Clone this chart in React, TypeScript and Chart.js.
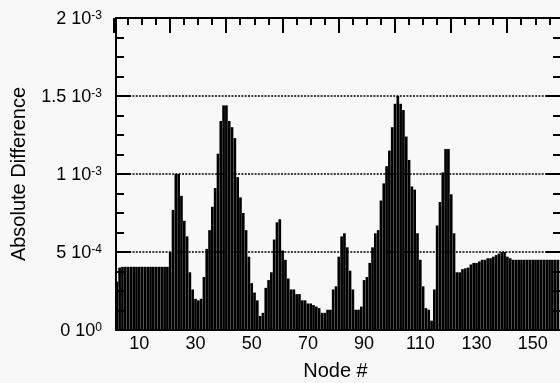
import React, { useEffect, useRef } from "react";
import { Chart, registerables } from "chart.js";

Chart.register(...registerables);

// ---- data (absolute difference, in units of 1e-4), node numbers start at FIRST_NODE ----
const FIRST_NODE = 2;
const diffE4: number[] = [
  // nodes 2-9
  3.1, 4.0, 4.05, 4.05, 4.05, 4.05, 4.05, 4.05,
  // 10-19
  4.05, 4.05, 4.05, 4.05, 4.05, 4.05, 4.05, 4.05, 4.05, 4.05,
  // 20-29
  4.05, 5.0, 7.7, 10.0, 10.0, 8.6, 7.0, 6.0, 3.7, 2.6,
  // 30-39
  2.0, 1.9, 2.0, 3.4, 5.2, 6.4, 7.9, 9.1, 11.3, 13.4,
  // 40-49
  14.4, 14.4, 13.4, 13.0, 12.3, 9.8, 8.5, 7.5, 6.4, 4.7,
  // 50-59
  3.0, 2.4, 1.9, 0.9, 1.1, 2.7, 3.2, 3.7, 5.8, 6.9,
  // 60-69
  7.1, 5.1, 4.5, 3.3, 2.6, 2.6, 2.3, 2.3, 1.9, 1.9,
  // 70-79
  1.7, 1.7, 1.6, 1.5, 1.4, 1.1, 1.1, 1.3, 1.3, 2.6,
  // 80-89
  2.8, 4.7, 6.0, 6.2, 5.3, 3.8, 2.6, 1.3, 1.3, 1.5,
  // 90-99
  3.2, 3.4, 4.3, 5.3, 6.2, 6.4, 8.3, 9.4, 10.5, 11.5,
  // 100-109
  13.0, 14.5, 15.0, 14.5, 14.1, 12.4, 10.9, 9.2, 9.0, 6.2,
  // 110-119
  4.5, 2.8, 1.4, 1.3, 0.6, 2.6, 6.7, 8.2, 10.1, 11.6,
  // 120-129
  11.6, 8.7, 6.2, 3.7, 3.7, 3.9, 3.95, 4.0, 4.2, 4.3,
  // 130-139
  4.3, 4.4, 4.5, 4.5, 4.6, 4.6, 4.7, 4.8, 4.9, 5.0,
  // 140-149
  5.0, 4.7, 4.6, 4.5, 4.5, 4.5, 4.5, 4.5, 4.5, 4.5,
  // 150-159
  4.5, 4.5, 4.5, 4.5, 4.5, 4.5, 4.5, 4.5, 4.5, 4.5,
];
const nodes = diffE4.map((_, i) => FIRST_NODE + i);
const values = diffE4.map((v) => v * 1e-4);

// ---- axis text / ticks ----
const xBottomLabels = [10, 30, 50, 70, 90, 110, 130, 150];
const xTopMinorTicks = [6, 11, 16, 26, 31, 36, 46, 51, 56, 66, 71, 76, 86, 91, 96, 106, 111, 116, 126, 131, 136, 146, 151, 156];
const xTopMajorTicks = [1, 21, 41, 61, 81, 101, 121, 141];
const yLabelValues = [0, 5e-4, 1e-3, 1.5e-3, 2e-3];
const yMantissas = ["0", "5", "1", "1.5", "2"];
const yExponents = ["0", "-4", "-3", "-3", "-3"];
const yGridValues = [5e-4, 1e-3, 1.5e-3];
const yMinorTicks = [1.25e-4, 2.5e-4, 3.75e-4, 6.25e-4, 7.5e-4, 8.75e-4, 1.125e-3, 1.25e-3, 1.375e-3, 1.625e-3, 1.75e-3, 1.875e-3];
const yMajorTicks = [5e-4, 1e-3, 1.5e-3];
const xTitle = "Node #";
const yTitle = "Absolute Difference";

const FONT = '"Liberation Sans", Arial, Helvetica, sans-serif';

const framePlugin = {
  id: "framePlugin",
  beforeDatasetsDraw(chart: any) {
    const { ctx, chartArea: a, scales } = chart;
    const y = scales.y;
    ctx.save();
    ctx.strokeStyle = "#000";
    ctx.lineWidth = 1.5;
    ctx.setLineDash([2, 1.3]);
    for (const v of yGridValues) {
      const py = Math.round(y.getPixelForValue(v));
      ctx.beginPath();
      ctx.moveTo(a.left, py);
      ctx.lineTo(a.right, py);
      ctx.stroke();
    }
    ctx.restore();
  },
  afterDatasetsDraw(chart: any) {
    const { ctx, chartArea: a, scales } = chart;
    const x = scales.x;
    const y = scales.y;
    ctx.save();
    ctx.strokeStyle = "#000";
    ctx.fillStyle = "#000";
    ctx.setLineDash([]);
    // frame
    ctx.lineWidth = 2;
    ctx.strokeRect(a.left, a.top, a.right - a.left, a.bottom - a.top);
    // y ticks (left and right, inward)
    const yTick = (v: number, len: number) => {
      const py = Math.round(y.getPixelForValue(v));
      ctx.beginPath();
      ctx.moveTo(a.left, py);
      ctx.lineTo(a.left + len, py);
      ctx.moveTo(a.right, py);
      ctx.lineTo(a.right - len, py);
      ctx.stroke();
    };
    ctx.lineWidth = 2;
    yMinorTicks.forEach((v) => yTick(v, 8));
    yMajorTicks.forEach((v) => yTick(v, 15));
    // top ticks (downward)
    const xTick = (v: number, len: number) => {
      const px = Math.round(x.getPixelForValue(v));
      ctx.beginPath();
      ctx.moveTo(px, a.top);
      ctx.lineTo(px, a.top + len);
      ctx.stroke();
    };
    xTopMinorTicks.forEach((v) => xTick(v, 7));
    xTopMajorTicks.forEach((v) => xTick(v, 15));

    // y labels with superscript exponents
    const rightEdge = a.left - 14;
    yLabelValues.forEach((v, i) => {
      const py = y.getPixelForValue(v);
      ctx.textAlign = "right";
      ctx.textBaseline = "alphabetic";
      ctx.font = `12px ${FONT}`;
      const ew = ctx.measureText(yExponents[i]).width;
      ctx.fillText(yExponents[i], rightEdge, py + 0.5);
      ctx.font = `18px ${FONT}`;
      const baseX = rightEdge - ew;
      ctx.fillText("10", baseX, py + 6);
      const tw = ctx.measureText("10").width;
      ctx.fillText(yMantissas[i], baseX - tw - 5, py + 6);
    });

    // x labels
    ctx.font = `18px ${FONT}`;
    ctx.textAlign = "center";
    ctx.textBaseline = "alphabetic";
    xBottomLabels.forEach((v) => {
      ctx.fillText(String(v), x.getPixelForValue(v), a.bottom + 18.5);
    });

    // titles
    ctx.font = `20px ${FONT}`;
    ctx.fillText(xTitle, (a.left + a.right) / 2 - 3, a.bottom + 46.5);
    ctx.save();
    ctx.translate(24.5, (a.top + a.bottom) / 2);
    ctx.rotate(-Math.PI / 2);
    ctx.textAlign = "center";
    ctx.fillText(yTitle, 0, 0);
    ctx.restore();

    ctx.restore();
  },
};

export default function App() {
  const canvasRef = useRef<HTMLCanvasElement | null>(null);

  useEffect(() => {
    if (!canvasRef.current) return;
    const chart = new Chart(canvasRef.current, {
      type: "bar",
      data: {
        datasets: [
          {
            data: nodes.map((n, i) => ({ x: n, y: values[i] })),
            backgroundColor: "#000",
            borderWidth: 0,
            barPercentage: 0.95,
            categoryPercentage: 1,
          } as any,
        ],
      },
      options: {
        animation: false,
        responsive: true,
        maintainAspectRatio: false,
        layout: { padding: { left: 116, top: 18, right: 5, bottom: 53 } },
        plugins: { legend: { display: false }, tooltip: { enabled: false } },
        scales: {
          x: { type: "linear", min: 1.71, max: 160.07, offset: false, display: false },
          y: { type: "linear", min: 0, max: 2e-3, display: false },
        },
      },
      plugins: [framePlugin],
    });
    return () => chart.destroy();
  }, []);

  return (
    <div style={{ position: "fixed", left: 0, top: 0, width: 560, height: 383, overflow: "hidden", background: "#f8f8f8" }}>
      <div style={{ position: "relative", width: 566, height: 383 }}>
        <canvas ref={canvasRef} />
      </div>
    </div>
  );
}
